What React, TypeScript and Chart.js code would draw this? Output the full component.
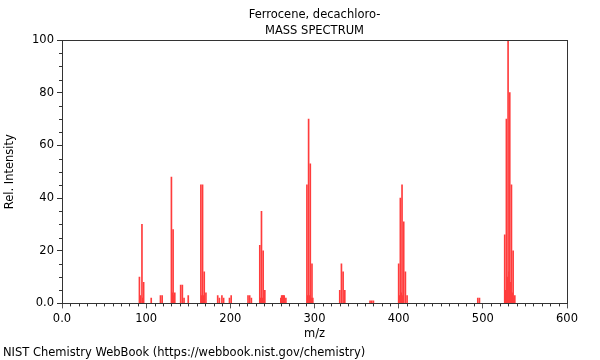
import { useEffect, useRef } from 'react';
import { Chart, registerables } from 'chart.js';

Chart.register(...registerables);

const TITLE_LINES = ['Ferrocene, decachloro-', 'MASS SPECTRUM'];
const FOOTER = 'NIST Chemistry WebBook (https://webbook.nist.gov/chemistry)';
const X_TITLE = 'm/z';
const Y_TITLE = 'Rel. Intensity';

const mz = [
  92, 93, 95, 96, 97, 106, 117, 119,
  130, 131, 132, 133, 134, 141, 143, 145, 150,
  165, 166, 167, 168, 169, 171, 185, 187, 190, 192, 199, 201,
  221, 223, 225, 235, 236, 237, 238, 239, 241,
  260, 261, 262, 263, 264, 266,
  291, 292, 293, 294, 295, 296, 297, 298,
  330, 332, 334, 336, 366, 368, 370,
  400, 401, 402, 403, 404, 405, 406, 408, 410,
  494, 496,
  526, 527, 528, 529, 530, 531, 532, 533, 534, 535, 536, 537, 538,
];
const intensity = [
  10, 3, 30, 2, 8, 2, 3, 3,
  48, 4, 28, 3, 4, 7, 7, 2, 3,
  45, 3, 45, 3, 12, 4, 3, 2, 3, 2, 2, 3,
  3, 3, 2, 22, 2, 35, 2, 20, 5,
  2, 3, 3, 3, 3, 2,
  45, 3, 70, 3, 53, 2, 15, 2,
  5, 15, 12, 5, 1, 1, 1,
  15, 3, 40, 4, 45, 3, 31, 12, 3,
  2, 2,
  26, 5, 70, 10, 100, 12, 80, 8, 45, 4, 20, 2, 3,
];

const X_TICKS = [0, 100, 200, 300, 400, 500, 600];
const Y_TICKS = [0, 20, 40, 60, 80, 100];

const FONT = "'DejaVu Sans', sans-serif";
const FS = 11.5;

const frameAndMinor = {
  id: 'frameAndMinor',
  afterDraw(chart: any) {
    const { ctx, chartArea } = chart;
    const xs = chart.scales.x;
    const ys = chart.scales.y;
    ctx.save();
    ctx.strokeStyle = '#333';
    ctx.lineWidth = 1;
    ctx.beginPath();
    for (let v = 0; v <= 600; v += 10) {
      if (v % 100 === 0) continue;
      const px = Math.round(xs.getPixelForValue(v)) + 0.5;
      ctx.moveTo(px, chartArea.bottom);
      ctx.lineTo(px, chartArea.bottom + 3);
    }
    for (let v = 0; v <= 100; v += 5) {
      if (v % 20 === 0) continue;
      const py = Math.round(ys.getPixelForValue(v)) + 0.5;
      ctx.moveTo(chartArea.left - 3, py);
      ctx.lineTo(chartArea.left, py);
    }
    ctx.stroke();
    ctx.strokeRect(
      Math.round(chartArea.left) + 0.5,
      Math.round(chartArea.top) + 0.5,
      Math.round(chartArea.right - chartArea.left),
      Math.round(chartArea.bottom - chartArea.top)
    );
    ctx.restore();
  },
};

export default function App() {
  const ref = useRef<HTMLCanvasElement>(null);
  useEffect(() => {
    document.body.style.margin = '0';
    const chart = new Chart(ref.current as HTMLCanvasElement, {
      type: 'bar',
      data: {
        datasets: [
          {
            data: mz.map((m, i) => ({ x: m, y: intensity[i] })) as any,
            backgroundColor: 'rgb(255,60,60)',
            borderWidth: 0,
            barThickness: 1,
          },
        ],
      },
      options: {
        responsive: false,
        animation: false,
        layout: { padding: { left: 3, right: 33, top: 0, bottom: 0 } },
        plugins: {
          legend: { display: false },
          tooltip: { enabled: false },
          title: {
            display: true,
            fullSize: false,
            text: TITLE_LINES,
            color: '#000',
            font: { family: FONT, size: FS, weight: 'normal', lineHeight: 16 / FS },
            padding: { top: 7, bottom: 1 },
          },
          subtitle: {
            display: true,
            text: FOOTER,
            position: 'bottom',
            align: 'start',
            color: '#000',
            font: { family: FONT, size: FS, weight: 'normal', lineHeight: 1.2 },
            padding: { top: 4, bottom: 0 },
          },
        },
        scales: {
          x: {
            type: 'linear',
            min: 0,
            max: 600,
            offset: false,
            afterBuildTicks: (s: any) => {
              s.ticks = X_TICKS.map((v) => ({ value: v }));
            },
            ticks: {
              color: '#000',
              font: { family: FONT, size: FS },
              maxRotation: 0,
              padding: 4,
              callback: (v: any) => (v === 0 ? '0.0' : String(v)),
            },
            grid: { drawOnChartArea: false, offset: false, tickLength: 5, color: '#555' },
            border: { color: '#333' },
            title: {
              display: true,
              text: X_TITLE,
              color: '#000',
              font: { family: FONT, size: FS },
              padding: { top: 0, bottom: 1 },
            },
            afterFit: (s: any) => {
              s.height = 38.8;
            },
          },
          y: {
            min: 0,
            max: 100,
            afterBuildTicks: (s: any) => {
              s.ticks = Y_TICKS.map((v) => ({ value: v }));
            },
            ticks: {
              color: '#000',
              font: { family: FONT, size: FS },
              padding: 3,
              callback: (v: any) => (v === 0 ? '0.0' : String(v)),
            },
            grid: { drawOnChartArea: false, tickLength: 5, color: '#333' },
            border: { color: '#333' },
            title: {
              display: true,
              text: Y_TITLE,
              color: '#000',
              font: { family: FONT, size: FS },
              padding: { top: 0, bottom: 0 },
            },
            afterFit: (s: any) => {
              s.width = 59;
            },
          },
        },
      },
      plugins: [frameAndMinor],
    });
    return () => chart.destroy();
  }, []);
  return (
    <div style={{ position: 'absolute', left: 0, top: 0, width: 600, height: 360 }}>
      <canvas ref={ref} width={600} height={360} />
    </div>
  );
}
